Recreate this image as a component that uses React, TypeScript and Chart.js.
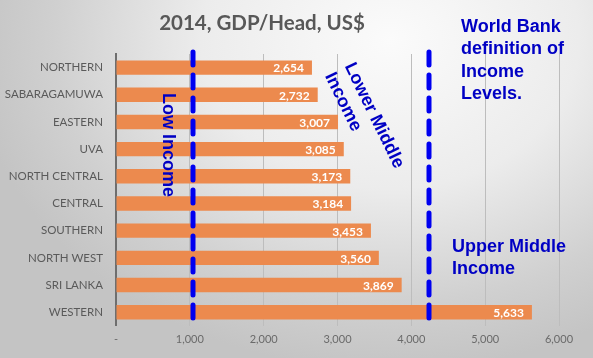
import React, { useEffect, useRef } from "react";
import { Chart, registerables } from "chart.js";

Chart.register(...registerables);

const categories = [
  "NORTHERN",
  "SABARAGAMUWA",
  "EASTERN",
  "UVA",
  "NORTH CENTRAL",
  "CENTRAL",
  "SOUTHERN",
  "NORTH WEST",
  "SRI LANKA",
  "WESTERN",
];
const gdpPerHead = [2654, 2732, 3007, 3085, 3173, 3184, 3453, 3560, 3869, 5633];
const thresholds = [1045, 4240];
const titleText = "2014, GDP/Head, US$";
const lowIncomeText = ["Low Income"];
const lowerMiddleText = ["Lower Middle", "Income"];
const worldBankText = ["World Bank", "definition of", "Income", "Levels."];
const upperMiddleText = ["Upper Middle", "Income"];

const BLUE_TEXT = "#0000c4";
const BLUE_LINE = "#0000f0";

const overlayPlugin = {
  id: "overlay",
  afterDatasetsDraw(chart: any) {
    const ctx = chart.ctx;
    const xs = chart.scales.x;
    const area = chart.chartArea;
    const meta = chart.getDatasetMeta(0);

    // title
    ctx.save();
    ctx.fillStyle = "#585858";
    ctx.font = "bold 20.5px Lato";
    ctx.textAlign = "center";
    ctx.textBaseline = "middle";
    ctx.fillText(titleText, 262, 23);
    ctx.restore();

    ctx.save();
    ctx.fillStyle = "#ffffff";
    ctx.font = "bold 12px Lato";
    ctx.textAlign = "right";
    ctx.textBaseline = "middle";
    meta.data.forEach((bar: any, i: number) => {
      ctx.fillText(gdpPerHead[i].toLocaleString("en-US"), bar.x - 8, bar.y + 1);
    });
    ctx.restore();

    ctx.save();
    ctx.strokeStyle = BLUE_LINE;
    ctx.lineWidth = 5;
    ctx.lineCap = "round";
    ctx.setLineDash([13, 10]);
    thresholds.forEach((t) => {
      const px = Math.round(xs.getPixelForValue(t));
      ctx.beginPath();
      ctx.moveTo(px, area.top - 2);
      ctx.lineTo(px, area.bottom + 1);
      ctx.stroke();
    });
    ctx.restore();

    ctx.save();
    ctx.fillStyle = BLUE_TEXT;
    ctx.font = "bold 18px 'Liberation Sans', Arial, sans-serif";
    ctx.textBaseline = "top";
    ctx.textAlign = "left";

    const x1 = xs.getPixelForValue(thresholds[0]);
    ctx.save();
    ctx.translate(x1 - 16, 93);
    ctx.rotate(Math.PI / 2);
    lowIncomeText.forEach((l, i) => ctx.fillText(l, 0, i * 22));
    ctx.restore();

    ctx.save();
    ctx.translate(357, 60);
    ctx.rotate((64 * Math.PI) / 180);
    lowerMiddleText.forEach((l, i) => ctx.fillText(l, 0, i * 22));
    ctx.restore();

    worldBankText.forEach((l, i) => ctx.fillText(l, 461, 18 + i * 22.5));
    upperMiddleText.forEach((l, i) => ctx.fillText(l, 452, 238 + i * 22));
    ctx.restore();
  },
};

export default function App() {
  const ref = useRef<HTMLCanvasElement>(null);
  useEffect(() => {
    const chart = new Chart(ref.current!, {
      type: "bar",
      data: {
        labels: categories,
        datasets: [
          {
            data: gdpPerHead,
            backgroundColor: "#ec8a4e",
            barPercentage: 0.53,
            categoryPercentage: 1,
          },
        ],
      },
      options: {
        indexAxis: "y",
        animation: false,
        responsive: false,
        layout: { padding: { left: 0, right: 34, top: 54, bottom: 5 } },
        plugins: {
          legend: { display: false },
          tooltip: { enabled: false },
          title: { display: false },
        },
        scales: {
          x: {
            min: 0,
            max: 6000,
            ticks: {
              stepSize: 1000,
              color: "#6a6a6a",
              font: { family: "Lato", size: 11 },
              padding: 7,
              callback: (v: any) => (Number(v) === 0 ? "-" : Number(v).toLocaleString("en-US")),
            },
            grid: { color: "#bdbdbd", lineWidth: 1, drawTicks: false },
            border: { display: false },
          },
          y: {
            ticks: {
              color: "#5a5a5a",
              font: { family: "Lato", size: 11.5 },
              padding: 13,
            },
            grid: { display: false, drawTicks: false },
            border: { display: true, color: "#6e6e6e", width: 2 },
            afterFit: (s: any) => {
              s.width = 116;
            },
          },
        },
      },
      plugins: [overlayPlugin],
    });
    return () => chart.destroy();
  }, []);

  return (
    <div
      style={{
        position: "absolute",
        left: 0,
        top: 0,
        width: 593,
        height: 358,
        background:
          "radial-gradient(ellipse 420px 330px at 390px 40px, #fbfbfb 0%, #ececec 45%, #d0d0d0 80%, #c4c4c4 100%)",
      }}
    >
      <canvas ref={ref} width={593} height={358} style={{ display: "block" }} />
    </div>
  );
}
